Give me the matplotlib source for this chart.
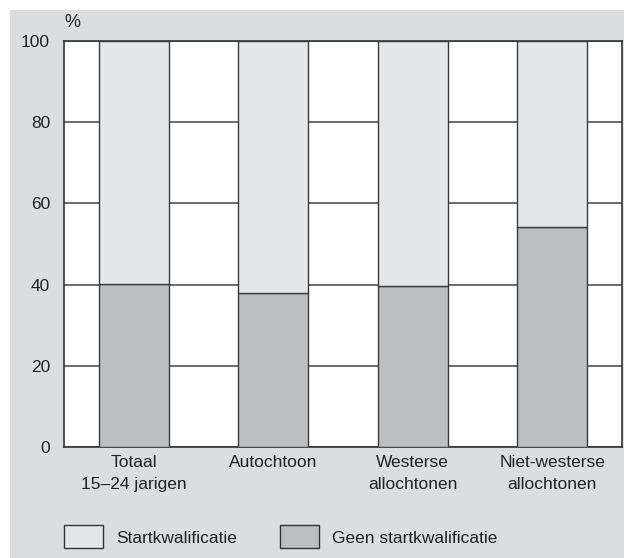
import matplotlib
matplotlib.use("Agg")
import matplotlib.pyplot as plt
from matplotlib.patches import Rectangle, Patch

# data
categories = ["Totaal\n15\u201324 jarigen", "Autochtoon", "Westerse\nallochtonen", "Niet-westerse\nallochtonen"]
geen_start = [40.2, 38.0, 39.6, 54.2]
start = [100 - v for v in geen_start]
yticks = [0, 20, 40, 60, 80, 100]

plt.rcParams['font.family'] = ['Liberation Sans', 'DejaVu Sans']
plt.rcParams['font.size'] = 12.5

W, H = 624, 558
fig = plt.figure(figsize=(W / 100, H / 100), dpi=100)
fig.patch.set_facecolor("white")
# grey panel behind the chart
fig.patches.append(Rectangle((10 / W, 0), 1, (H - 10) / H, transform=fig.transFigure,
                             facecolor="#dcdddf", edgecolor="none", zorder=-10))

ax = fig.add_axes([64 / W, (H - 447) / H, 558 / W, 406 / H])
ax.set_facecolor("white")

x = range(len(categories))
ax.bar(x, geen_start, width=0.5, color="#bdbec1", edgecolor="#3a3a3a", linewidth=1.0, zorder=3,
       label="Geen startkwalificatie")
ax.bar(x, start, width=0.5, bottom=geen_start, color="#e5e6e8", edgecolor="#3a3a3a", linewidth=1.0,
       zorder=3, label="Startkwalificatie")

ax.set_xlim(-0.5, 3.5)
ax.set_ylim(0, 100)
ax.set_yticks(yticks)
ax.set_xticks(list(x))
ax.set_xticklabels(categories, color="#222222", linespacing=1.55)
ax.tick_params(axis="y", length=0, pad=10, colors="#222222", labelsize=12.5)
ax.tick_params(axis="x", length=0, pad=6, colors="#222222", labelsize=12.5)
ax.yaxis.grid(True, color="#444444", linewidth=1.1, zorder=0)
ax.set_axisbelow(True)
for s in ax.spines.values():
    s.set_color("#333333")
    s.set_linewidth(1.2)

ax.text(0.0, 1.025, "%", transform=ax.transAxes, fontsize=13, color="#222222",
        ha="left", va="bottom")

handles = [Patch(facecolor="#e5e6e8", edgecolor="#333333", linewidth=1.0),
           Patch(facecolor="#bdbec1", edgecolor="#333333", linewidth=1.0)]
fig.legend(handles, ["Startkwalificatie", "Geen startkwalificatie"], ncol=2,
           loc="lower left", bbox_to_anchor=(55 / W, 1 / H), frameon=False, borderpad=0,
           handlelength=2.25, handleheight=1.65, handletextpad=0.75, columnspacing=2.5,
           fontsize=12.5, labelcolor="#222222")

fig.savefig("out.png", dpi=100)
